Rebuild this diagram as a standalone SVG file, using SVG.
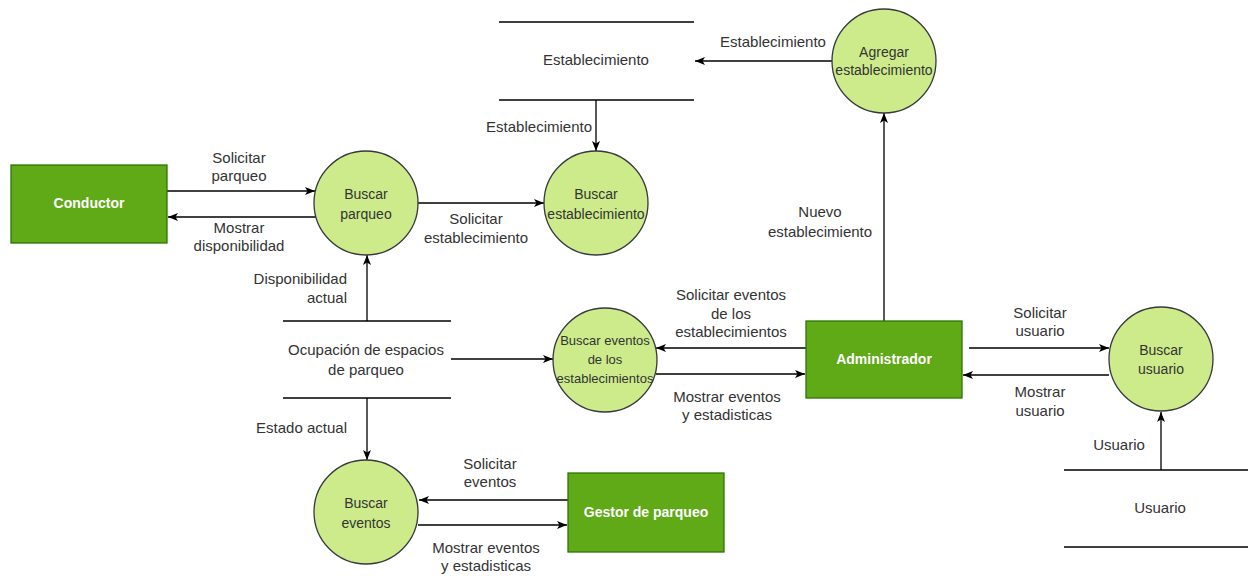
<svg xmlns="http://www.w3.org/2000/svg" width="1248" height="576" viewBox="0 0 1248 576">
<style>
.ent{fill:#60a917;stroke:#2d7600;stroke-width:1.3}
.proc{fill:#cdeb8b;stroke:#36393d;stroke-width:1.3}
.store{stroke:#000;stroke-width:1.3}
.flow{fill:none;stroke:#000;stroke-width:1.3;marker-end:url(#arr)}
text{font-family:"Liberation Sans",Arial,Helvetica,sans-serif}
.lbl{font-size:15px;fill:#333;text-anchor:middle}
.end{text-anchor:end}
.pt{font-size:14px;fill:#333;text-anchor:middle}
.et{font-size:14px;fill:#fff;font-weight:bold;text-anchor:middle}
</style>
<defs>
<marker id="arr" viewBox="0 0 10 10" refX="10" refY="5" markerWidth="10" markerHeight="10" markerUnits="userSpaceOnUse" orient="auto">
<path d="M0,1 L10,5 L0,9 L2.5,5 z" fill="#000"/>
</marker>
</defs>
<rect width="1248" height="576" fill="#fff"/>

<g id="connectors">
<line class="flow" x1="167" y1="191" x2="315" y2="191"/>
<line class="flow" x1="316" y1="217" x2="168" y2="217"/>
<line class="flow" x1="418" y1="203" x2="544" y2="203"/>
<line class="flow" x1="596" y1="100" x2="596" y2="151"/>
<line class="flow" x1="832" y1="61" x2="695" y2="61"/>
<line class="flow" x1="884" y1="321" x2="884" y2="113"/>
<line class="flow" x1="367" y1="321" x2="367" y2="255"/>
<line class="flow" x1="451" y1="359" x2="553" y2="359"/>
<line class="flow" x1="367" y1="398" x2="367" y2="460"/>
<line class="flow" x1="806" y1="348" x2="656" y2="348"/>
<line class="flow" x1="656" y1="374" x2="805" y2="374"/>
<line class="flow" x1="969" y1="348" x2="1109" y2="348"/>
<line class="flow" x1="1109" y1="375" x2="963" y2="375"/>
<line class="flow" x1="1161" y1="470" x2="1161" y2="412"/>
<line class="flow" x1="568" y1="500" x2="419" y2="500"/>
<line class="flow" x1="418" y1="525" x2="567" y2="525"/>

<text class="lbl"><tspan x="239" y="162.5">Solicitar</tspan><tspan x="239" y="181">parqueo</tspan></text>
<text class="lbl"><tspan x="239" y="232.5">Mostrar</tspan><tspan x="239" y="251">disponibilidad</tspan></text>
<text class="lbl"><tspan x="476" y="224">Solicitar</tspan><tspan x="476" y="243">establecimiento</tspan></text>
<text class="lbl" x="773" y="46.5">Establecimiento</text>
<text class="lbl end" x="592" y="131.5">Establecimiento</text>
<text class="lbl"><tspan x="820" y="216.5">Nuevo</tspan><tspan x="820" y="236.5">establecimiento</tspan></text>
<text class="lbl end"><tspan x="347" y="283.5">Disponibilidad</tspan><tspan x="347" y="302.5">actual</tspan></text>
<text class="lbl end" x="347" y="432.5">Estado actual</text>
<text class="lbl"><tspan x="731" y="300">Solicitar eventos</tspan><tspan x="731" y="318.5">de los</tspan><tspan x="731" y="337">establecimientos</tspan></text>
<text class="lbl"><tspan x="727" y="401.5">Mostrar eventos</tspan><tspan x="727" y="420">y estadisticas</tspan></text>
<text class="lbl"><tspan x="1040" y="317.5">Solicitar</tspan><tspan x="1040" y="336">usuario</tspan></text>
<text class="lbl"><tspan x="1040" y="397">Mostrar</tspan><tspan x="1040" y="416">usuario</tspan></text>
<text class="lbl" x="1119" y="449.5">Usuario</text>
<text class="lbl"><tspan x="490" y="468.5">Solicitar</tspan><tspan x="490" y="487">eventos</tspan></text>
<text class="lbl"><tspan x="486" y="552.5">Mostrar eventos</tspan><tspan x="486" y="571">y estadisticas</tspan></text>
</g>

<g id="conductor">
<rect class="ent" x="11" y="165" width="156" height="78"/>
<text class="et" x="89" y="208">Conductor</text>
</g>

<g id="administrador">
<rect class="ent" x="806" y="321" width="156" height="77"/>
<text class="et" x="884" y="363.5">Administrador</text>
</g>

<g id="gestor-parqueo">
<rect class="ent" x="568" y="473" width="156" height="79"/>
<text class="et" x="646" y="517">Gestor de parqueo</text>
</g>

<g id="buscar-parqueo">
<circle class="proc" cx="366" cy="203" r="52"/>
<text class="pt"><tspan x="366" y="199">Buscar</tspan><tspan x="366" y="219">parqueo</tspan></text>
</g>

<g id="buscar-establecimiento">
<circle class="proc" cx="596" cy="203" r="52"/>
<text class="pt"><tspan x="596" y="199">Buscar</tspan><tspan x="596" y="219">establecimiento</tspan></text>
</g>

<g id="agregar-establecimiento">
<circle class="proc" cx="884" cy="61" r="52"/>
<text class="pt"><tspan x="884" y="57">Agregar</tspan><tspan x="884" y="75">establecimiento</tspan></text>
</g>

<g id="buscar-eventos-establecimientos">
<circle class="proc" cx="605" cy="360" r="52"/>
<text class="pt" style="font-size:13px"><tspan x="605" y="345">Buscar eventos</tspan><tspan x="605" y="363.5">de los</tspan><tspan x="605" y="382.5">establecimientos</tspan></text>
</g>

<g id="buscar-eventos">
<circle class="proc" cx="366" cy="512" r="52"/>
<text class="pt"><tspan x="366" y="507.5">Buscar</tspan><tspan x="366" y="527.5">eventos</tspan></text>
</g>

<g id="buscar-usuario">
<circle class="proc" cx="1161" cy="359" r="52"/>
<text class="pt"><tspan x="1161" y="355">Buscar</tspan><tspan x="1161" y="374">usuario</tspan></text>
</g>

<g id="store-establecimiento">
<line class="store" x1="499" y1="22" x2="694" y2="22"/>
<line class="store" x1="499" y1="100" x2="694" y2="100"/>
<text class="lbl" x="596" y="65">Establecimiento</text>
</g>

<g id="store-ocupacion">
<line class="store" x1="283" y1="321" x2="451" y2="321"/>
<line class="store" x1="283" y1="398" x2="451" y2="398"/>
<text class="lbl"><tspan x="366" y="354.5">Ocupación de espacios</tspan><tspan x="366" y="374.5">de parqueo</tspan></text>
</g>

<g id="store-usuario">
<line class="store" x1="1064" y1="470" x2="1248" y2="470"/>
<line class="store" x1="1064" y1="547" x2="1248" y2="547"/>
<text class="lbl" x="1160" y="513">Usuario</text>
</g>
</svg>
